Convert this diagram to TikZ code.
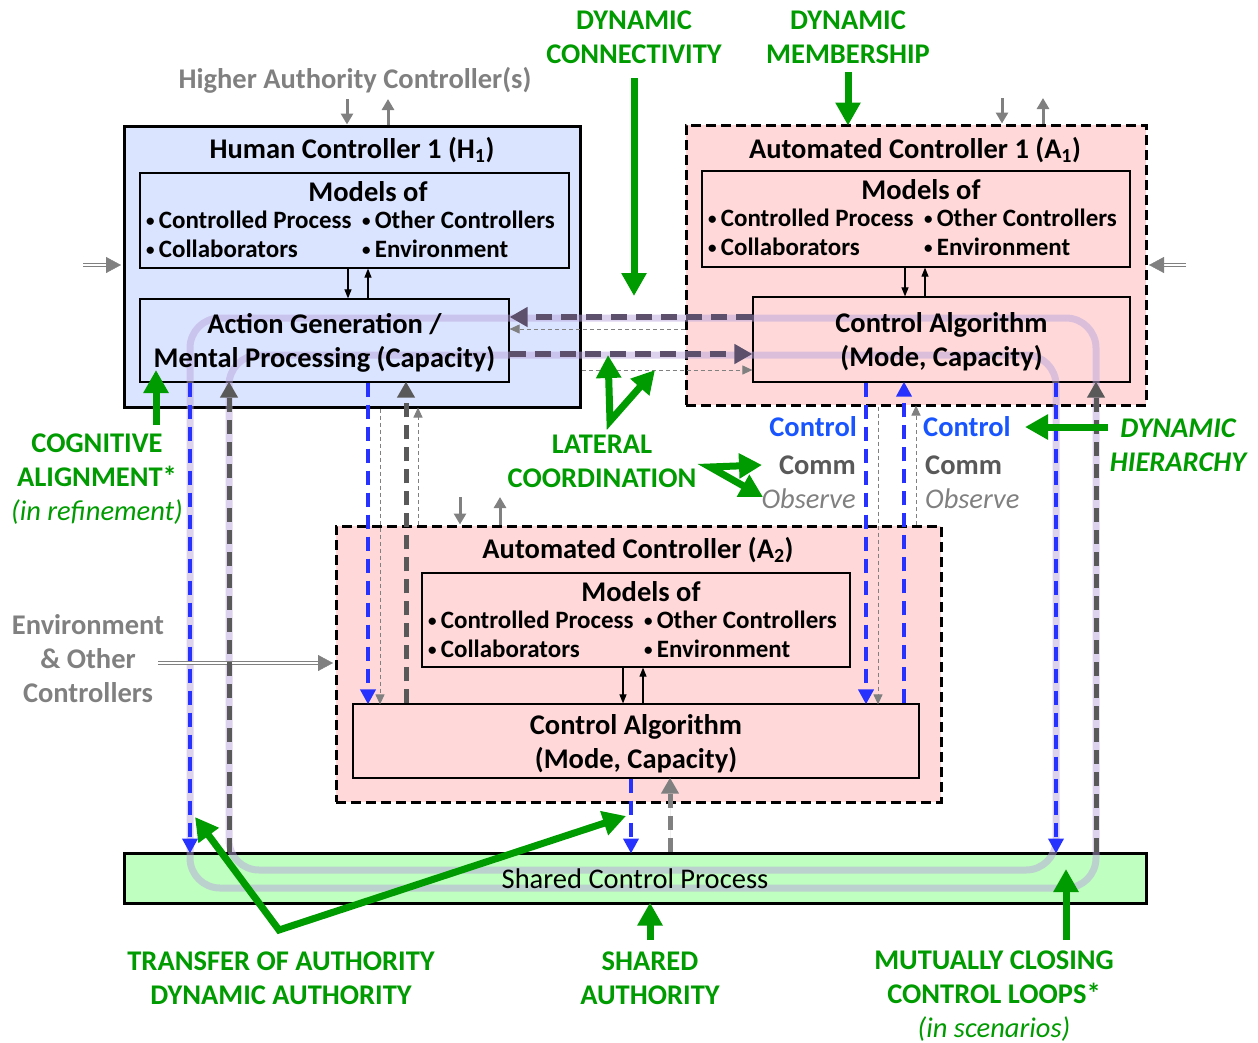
\documentclass[tikz,border=0pt]{standalone}
\usepackage{fontspec}
\setmainfont{Carlito}
\usetikzlibrary{arrows.meta,calc}

\definecolor{humanfill}{RGB}{219,228,255}
\definecolor{autofill}{RGB}{255,217,217}
\definecolor{procfill}{RGB}{191,255,191}
\definecolor{ctrlblue}{RGB}{40,50,255}
\definecolor{labelblue}{RGB}{25,85,255}
\definecolor{commgray}{RGB}{89,89,89}
\definecolor{obsgray}{RGB}{128,128,128}
\definecolor{latpurple}{RGB}{92,80,108}
\definecolor{loopviolet}{RGB}{185,165,220}
\definecolor{notegreen}{RGB}{0,155,0}

% small list bullet
\newcommand\itembullet{{\fontsize{17}{17}\selectfont\raisebox{2.5pt}{•}}\,}
% bullet lists inside every "Models of" box
\newcommand\modelsof[4]{% #1 name prefix, #2 left edge, #3 top edge, #4 heading centre
  \node[lbl] (#1-head) at (#4,#3+19) {Models of};
  \node[bodytxt,anchor=west] (#1-cp)  at (#2+6,#3+47)   {\itembullet Controlled Process};
  \node[bodytxt,anchor=west] (#1-oc)  at (#2+222,#3+47) {\itembullet Other Controllers};
  \node[bodytxt,anchor=west] (#1-col) at (#2+6,#3+76)   {\itembullet Collaborators};
  \node[bodytxt,anchor=west] (#1-env) at (#2+222,#3+76) {\itembullet Environment};
}

\begin{document}
\begin{tikzpicture}[x=1pt,y=-1pt,
  solidbox/.style={draw=black,line width=3pt,inner sep=0pt},
  dashbox/.style={draw=black,line width=3pt,dash pattern=on 10pt off 5pt,inner sep=0pt},
  innerbox/.style={draw=black,line width=1.2pt,inner sep=0pt},
  lbl/.style={inner sep=0pt,align=center,font=\fontsize{28.5}{34}\selectfont\bfseries},
  bodytxt/.style={lbl,font=\fontsize{25}{34}\selectfont\bfseries},
  glbl/.style={lbl,text=notegreen},
  loopline/.style={draw=loopviolet,line width=7pt,opacity=0.5,rounded corners=30pt},
  bluedash/.style={draw=ctrlblue,line width=4pt,dash pattern=on 14pt off 8pt,
    -{Triangle[length=15pt,width=15pt]}},
  graydash/.style={draw=commgray,line width=5pt,dash pattern=on 14pt off 8pt,
    -{Triangle[length=16pt,width=17pt]}},
  lightdash/.style={graydash,draw=obsgray,fill=obsgray},
  obsdash/.style={draw=obsgray,line width=1pt,dash pattern=on 4pt off 3pt,
    -{Triangle[length=10pt,width=9pt]}},
  latdash/.style={draw=latpurple,line width=5.5pt,dash pattern=on 16pt off 9pt,
    -{Triangle[length=18pt,width=19pt]}},
  hierarrow/.style={draw=obsgray,line width=3pt,-{Triangle[length=11pt,width=12pt]}},
  modelarrow/.style={draw=black,line width=1.1pt,-{Triangle[length=9pt,width=7pt]}},
  dblline/.style={draw=obsgray,line width=1.3pt,double=white,double distance=2.2pt},
  dbltip/.style={draw=obsgray,line width=0.4pt,-{Triangle[length=15pt,width=16pt]}},
  greenarrow/.style={draw=notegreen,line width=7pt,line join=miter,
    -{Triangle[length=23pt,width=24pt]}},
  greenvee/.style={greenarrow,{Triangle[length=23pt,width=24pt]}-{Triangle[length=23pt,width=24pt]}}
]
\useasboundingbox (0,0) rectangle (1258,1042);

% ---------- controller and process boxes ----------
\node[solidbox,fill=humanfill,minimum width=456pt,minimum height=281pt] (h1) at (352,266.5) {};
\node[innerbox,fill=humanfill,minimum width=429pt,minimum height=95pt] (h1mod) at (354.5,220.5) {};
\node[innerbox,fill=humanfill,minimum width=369pt,minimum height=83pt] (h1act) at (324.5,340.5) {};

\node[dashbox,fill=autofill,minimum width=460pt,minimum height=280pt] (a1) at (916,265) {};
\node[innerbox,fill=autofill,minimum width=428pt,minimum height=96pt] (a1mod) at (916,219) {};
\node[innerbox,fill=autofill,minimum width=377pt,minimum height=85pt] (a1ctrl) at (941.5,339.5) {};

\node[dashbox,fill=autofill,minimum width=605pt,minimum height=276pt] (a2) at (638.5,664) {};
\node[innerbox,fill=autofill,minimum width=428pt,minimum height=94pt] (a2mod) at (636,620) {};
\node[innerbox,fill=autofill,minimum width=566pt,minimum height=74pt] (a2ctrl) at (636,741) {};

\node[solidbox,fill=procfill,minimum width=1022pt,minimum height=50pt] (shared) at (635,878) {};

% ---------- the two closed control loops ----------
\draw[loopline] (190,318) rectangle (1096,888);
\draw[loopline] (229,355) rectangle (1056,870);

% ---------- reference columns and rows ----------
\foreach \n/\x in {c190/190,c229/229,c347/347,c348/348,c368/368,c380/380,c388/388,
  c406/406,c418/418,c460/460,c500/500,c623/623,c631/631,c643/643,c650/650,c670/670,
  c866/866,c878/878,c904/904,c905/905,c916/916,c925/925,c1002/1002,c1043/1043,
  c1056/1056,c1066/1066,c1096/1096}
  \coordinate (\n) at (\x,0);
\foreach \n/\y in {r265/265,r317/317,r329/329,r354/354,r370/370,r663/663}
  \coordinate (\n) at (0,\y);

% ---------- model <-> algorithm links ----------
\draw[modelarrow] (h1mod.south -| c348) -- (h1act.north -| c348);
\draw[modelarrow] (h1act.north -| c368) -- (h1mod.south -| c368);
\draw[modelarrow] (a1mod.south -| c905) -- (a1ctrl.north -| c905);
\draw[modelarrow] (a1ctrl.north -| c925) -- (a1mod.south -| c925);
\draw[modelarrow] (a2mod.south -| c623) -- (a2ctrl.north -| c623);
\draw[modelarrow] (a2ctrl.north -| c643) -- (a2mod.south -| c643);

% ---------- links to higher authority ----------
\coordinate (hH1in) at (347,99);  \coordinate (hH1out) at (388,99);
\coordinate (hA1in) at (1002,98); \coordinate (hA1out) at (1043,98);
\coordinate (hA2in) at (460,497); \coordinate (hA2out) at (500,497);
\draw[hierarrow] (hH1in) -- (h1.north -| c347);
\draw[hierarrow] (h1.north -| c388) -- (hH1out);
\draw[hierarrow] (hA1in) -- (a1.north -| c1002);
\draw[hierarrow] (a1.north -| c1043) -- (hA1out);
\draw[hierarrow] (hA2in) -- (a2.north -| c460);
\draw[hierarrow] (a2.north -| c500) -- (hA2out);

% ---------- environment inputs ----------
\coordinate (envH1) at (83,265);
\coordinate (envA1) at (1186,265);
\coordinate (envA2) at (158,663);
\draw[dblline] (envH1) -- ($(h1.west |- r265)+(-13,0)$);
\draw[dbltip] ($(h1.west |- r265)+(-15,0)$) -- ([xshift=-1.5pt]h1.west |- r265);
\draw[dblline] (envA1) -- ($(a1.east |- r265)+(13,0)$);
\draw[dbltip] ($(a1.east |- r265)+(15,0)$) -- ([xshift=1.5pt]a1.east |- r265);
\draw[dblline] (envA2) -- ($(a2.west |- r663)+(-13,0)$);
\draw[dbltip] ($(a2.west |- r663)+(-15,0)$) -- ([xshift=-1.5pt]a2.west |- r663);

% ---------- H1 <-> shared process ----------
\draw[bluedash] (h1act.south -| c190) -- ([yshift=-2pt]shared.north -| c190);
\draw[graydash] (shared.north -| c229) -- ([yshift=1pt]h1act.south -| c229);

% ---------- H1 <-> A2 ----------
\draw[bluedash] (h1act.south -| c368) -- ([yshift=-1pt]a2ctrl.north -| c368);
\draw[obsdash] (h1.south -| c380) -- ([yshift=-1pt]a2ctrl.north -| c380);
\draw[graydash] (a2ctrl.north -| c406) -- ([yshift=1pt]h1act.south -| c406);
\draw[obsdash] (a2.north -| c418) -- ([yshift=1pt]h1.south -| c418);

% ---------- A1 <-> A2 ----------
\draw[bluedash] (a1ctrl.south -| c866) -- ([yshift=-1pt]a2ctrl.north -| c866);
\draw[obsdash] (a1.south -| c878) -- ([yshift=-1pt]a2ctrl.north -| c878);
\draw[bluedash] (a2ctrl.north -| c904) -- ([yshift=1pt]a1ctrl.south -| c904);
\draw[obsdash] (a2.north -| c916) -- ([yshift=1pt]a1.south -| c916);

% ---------- A1 <-> shared process ----------
\draw[bluedash] (a1ctrl.south -| c1056) -- ([yshift=-2pt]shared.north -| c1056);
\draw[graydash] (shared.north -| c1096) -- ([yshift=1pt]a1ctrl.south -| c1096);

% ---------- A2 <-> shared process ----------
\draw[bluedash] (a2ctrl.south -| c631) -- ([yshift=-2pt]shared.north -| c631);
\draw[lightdash] (shared.north -| c670) -- ([yshift=1pt]a2ctrl.south -| c670);

% ---------- lateral links H1 <-> A1 ----------
\draw[latdash] (a1ctrl.west |- r317) -- (h1act.east |- r317);
\draw[obsdash] (a1.west |- r329) -- (h1act.east |- r329);
\draw[latdash] (h1act.east |- r354) -- (a1ctrl.west |- r354);
\draw[obsdash] (h1.east |- r370) -- (a1ctrl.west |- r370);

% ---------- texts inside the boxes ----------
\node[lbl] (h1-title) at (352,150) {Human Controller 1 (H\textsubscript{1})};
\node[lbl] (a1-title) at (915,150) {Automated Controller 1 (A\textsubscript{1})};
\node[lbl] (a2-title) at (638,550) {Automated Controller (A\textsubscript{2})};
\modelsof{h1m}{140}{173}{368}
\modelsof{a1m}{702}{171}{921}
\modelsof{a2m}{422}{573}{641}
\node[lbl] (h1act-txt) at (324.5,343) {Action Generation /\\Mental Processing (Capacity)};
\node[lbl] (a1ctrl-txt) at (941.5,342) {Control Algorithm\\(Mode, Capacity)};
\node[lbl] (a2ctrl-txt) at (636,744) {Control Algorithm\\(Mode, Capacity)};
\node[lbl,font=\fontsize{28.5}{34}\selectfont] (shared-txt) at (635,879) {Shared Control Process};

% ---------- link labels ----------
\node[lbl,anchor=east,text=labelblue] (ctl-l) at (857,427) {Control};
\node[lbl,anchor=east,text=commgray] (comm-l) at (856,465) {Comm};
\node[lbl,anchor=east,text=obsgray,font=\fontsize{28.5}{34}\selectfont\itshape] (obs-l) at (856,499) {Observe};
\node[lbl,anchor=west,text=labelblue] (ctl-r) at (923,427) {Control};
\node[lbl,anchor=west,text=commgray] (comm-r) at (925,465) {Comm};
\node[lbl,anchor=west,text=obsgray,font=\fontsize{28.5}{34}\selectfont\itshape] (obs-r) at (925,499) {Observe};

\node[lbl,text=obsgray] (hac) at (355,80) {Higher Authority Controller(s)};
\node[lbl,text=obsgray] (envtxt) at (88,659) {Environment\\\& Other\\Controllers};

% ---------- green annotations ----------
\node[glbl] (dcon) at (634,37) {DYNAMIC\\CONNECTIVITY};
\node[glbl] (dmem) at (848,37) {DYNAMIC\\MEMBERSHIP};
\node[glbl] (cog) at (97,479) {COGNITIVE\\ALIGNMENT*\\{\mdseries\itshape (in refinement)}};
\node[glbl] (lat) at (602,461) {LATERAL\\COORDINATION};
\node[glbl,font=\fontsize{28.5}{34}\selectfont\bfseries\itshape] (dhier) at (1178,445) {DYNAMIC\\HIERARCHY};
\node[glbl] (toa) at (281,978) {TRANSFER OF AUTHORITY\\DYNAMIC AUTHORITY};
\node[glbl] (sha) at (650,978) {SHARED\\AUTHORITY};
\node[glbl] (mcl) at (994,996) {MUTUALLY CLOSING\\CONTROL LOOPS*\\{\mdseries\itshape (in scenarios)}};

\coordinate (gcon-s) at (634,78);   \coordinate (gcon-e) at (634,296);
\coordinate (gmem-s) at (848,72);
\coordinate (gcog-s) at (156,425);  \coordinate (gcog-e) at (156,370);
\coordinate (glat-a) at (608,355);  \coordinate (glat-v) at (610,421);  \coordinate (glat-b) at (655,370);
\coordinate (gobs-a) at (762,465);  \coordinate (gobs-v) at (710,467);  \coordinate (gobs-b) at (763,497);
\coordinate (ghier-s) at (1108,427); \coordinate (ghier-e) at (1025,427);
\coordinate (gtoa-a) at (195,817);  \coordinate (gtoa-v) at (279,930);  \coordinate (gtoa-b) at (626,816);
\coordinate (gsha-s) at (650,940);
\coordinate (gmcl-s) at (1066,940); \coordinate (gmcl-e) at (1066,869);

\draw[greenarrow] (gcon-s) -- (gcon-e);
\draw[greenarrow] (gmem-s) -- ([yshift=-2pt]a1.north -| gmem-s);
\draw[greenarrow] (gcog-s) -- (gcog-e);
\draw[greenvee] (glat-a) -- (glat-v) -- (glat-b);
\draw[greenvee] (gobs-a) -- (gobs-v) -- (gobs-b);
\draw[greenarrow] (ghier-s) -- (ghier-e);
\draw[greenvee] (gtoa-a) -- (gtoa-v) -- (gtoa-b);
\draw[greenarrow] (gsha-s) -- ([yshift=2pt]shared.south -| gsha-s);
\draw[greenarrow] (gmcl-s) -- (gmcl-e);
\end{tikzpicture}
\end{document}
